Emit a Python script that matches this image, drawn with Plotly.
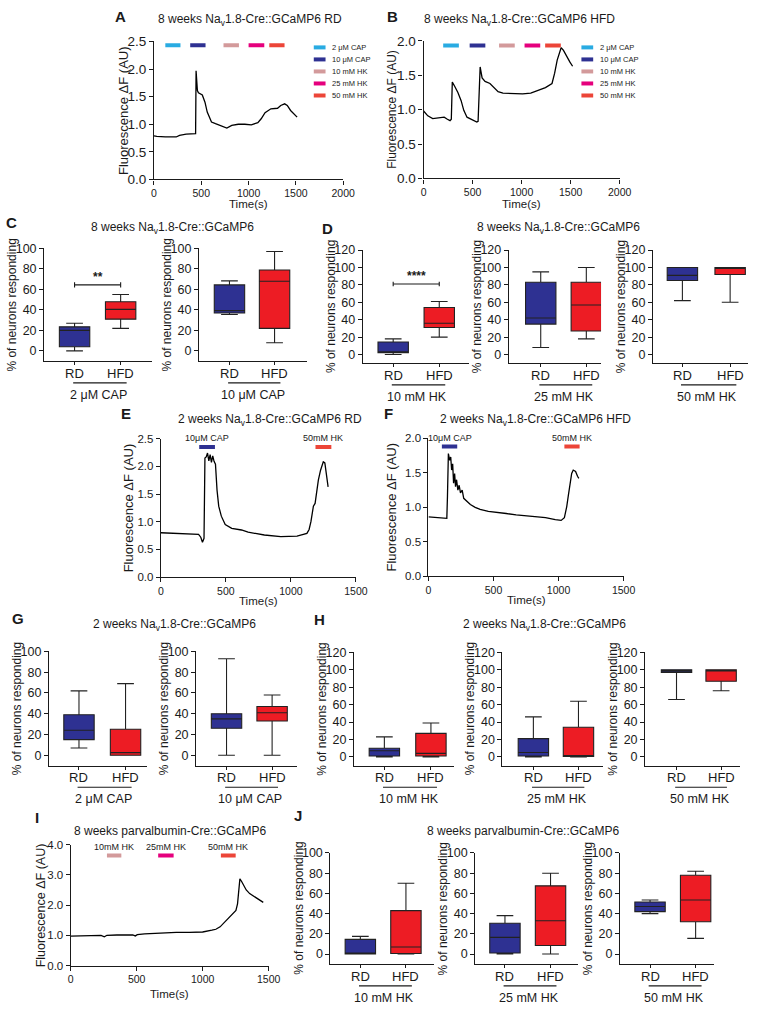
import plotly.graph_objects as go

# ======================= DATA =======================
# Calcium traces (time in s, fluorescence dF in AU)
A_time = [0, 30, 120, 235, 270, 340, 440, 445, 459, 470, 511, 539, 563, 587, 608, 650, 718, 770, 822, 891,
          960, 1029, 1098, 1133, 1174, 1236, 1306, 1340, 1381, 1409, 1444, 1478, 1513]
A_val = [0.79, 0.78, 0.77, 0.77, 0.80, 0.82, 0.83, 1.97, 1.61, 1.57, 1.53, 1.40, 1.22, 1.13, 1.04, 1.01, 0.97,
         0.93, 0.98, 1.00, 1.00, 0.99, 1.03, 1.10, 1.21, 1.28, 1.29, 1.34, 1.37, 1.34, 1.25, 1.19, 1.13]

B_time = [0, 43, 93, 160, 210, 243, 270, 283, 293, 317, 350, 383, 410, 443, 493, 543, 556, 577, 597, 627, 677,
          717, 760, 810, 910, 1010, 1093, 1177, 1243, 1310, 1337, 1363, 1403, 1427, 1460, 1493, 1520]
B_val = [0.98, 0.91, 0.87, 0.88, 0.89, 0.86, 0.84, 0.86, 1.40, 1.34, 1.25, 1.13, 0.99, 0.89, 0.85, 0.82, 0.83,
         1.62, 1.46, 1.41, 1.38, 1.32, 1.26, 1.24, 1.23, 1.23, 1.24, 1.29, 1.32, 1.38, 1.53, 1.72, 1.90, 1.86,
         1.77, 1.69, 1.63]

E_time = [0, 100, 200, 290, 307, 320, 332, 339, 349, 359, 369, 379, 389, 399, 409, 420, 432, 445, 465, 495,
          545, 620, 671, 796, 922, 1047, 1123, 1140, 1154, 1161, 1173, 1186, 1198, 1211, 1228, 1249, 1261, 1274,
          1286]
E_val = [0.80, 0.79, 0.78, 0.77, 0.72, 0.63, 0.70, 2.15, 2.17, 2.24, 2.10, 2.21, 2.07, 2.19, 2.09, 2.04, 1.57,
         1.28, 1.10, 0.95, 0.88, 0.85, 0.81, 0.76, 0.73, 0.74, 0.79, 0.86, 1.00, 1.13, 1.28, 1.33, 1.57, 1.75,
         1.93, 2.08, 2.06, 1.87, 1.63]

F_time = [0, 70, 141, 146, 153, 163, 171, 178, 186, 193, 201, 208, 216, 226, 236, 246, 259, 271, 296, 322,
          359, 397, 460, 523, 598, 674, 749, 824, 900, 975, 1020, 1045, 1063, 1076, 1088, 1101, 1113, 1131,
          1146, 1156]
F_val = [0.86, 0.85, 0.84, 1.16, 1.78, 1.68, 1.73, 1.54, 1.63, 1.35, 1.49, 1.30, 1.40, 1.25, 1.32, 1.21, 1.25,
         1.13, 1.09, 1.04, 1.00, 0.97, 0.94, 0.93, 0.91, 0.89, 0.88, 0.86, 0.85, 0.82, 0.81, 0.85, 1.01, 1.18,
         1.35, 1.49, 1.54, 1.52, 1.45, 1.42]

I_time = [0, 100, 230, 255, 262, 275, 350, 470, 490, 505, 560, 650, 700, 800, 900, 1000, 1070, 1100, 1132,
          1165, 1195, 1230, 1252, 1264, 1272, 1282, 1295, 1306, 1330, 1356, 1405, 1459]
I_val = [0.97, 0.98, 1.00, 0.95, 0.97, 1.00, 1.01, 1.01, 0.98, 1.02, 1.05, 1.07, 1.10, 1.10, 1.10, 1.11, 1.17,
         1.20, 1.28, 1.42, 1.55, 1.70, 1.82, 2.04, 2.45, 2.87, 2.78, 2.68, 2.50, 2.38, 2.25, 2.09]

# Stimulus application windows (s)
stim_names = ["2 μM CAP", "10 μM CAP", "10 mM HK", "25 mM HK", "50 mM HK"]
A_stim_start = [120, 383, 735, 1000, 1219]
A_stim_end = [280, 545, 898, 1166, 1380]
A_stim_level = 2.43
B_stim_start = [200, 470, 770, 1030, 1240]
B_stim_end = [360, 630, 930, 1190, 1400]
B_stim_level = 1.93
E_stim_labels = ["10μM CAP", "50mM HK"]
E_stim_start = [295, 1189]
E_stim_end = [416, 1311]
E_stim_level = 2.35
F_stim_labels = ["10μM CAP", "50mM HK"]
F_stim_start = [103, 1045]
F_stim_end = [221, 1162]
F_stim_level = 1.88
I_stim_labels = ["10mM HK", "25mM HK", "50mM HK"]
I_stim_start = [275, 663, 1138]
I_stim_end = [384, 780, 1250]
I_stim_level = 3.64

# Box plot summaries: [min, Q1, median, Q3, max] (% of neurons responding)
groups = ["RD", "HFD"]
C1_RD = [0, 4, 20, 23.5, 27];      C1_HFD = [22, 31, 40.5, 48, 55]
C2_RD = [35.5, 37, 39.3, 64.4, 68.3]; C2_HFD = [8, 22, 68, 79, 97]
D1_RD = [0, 2, 3, 14.4, 18];       D1_HFD = [20, 31, 36, 54, 61]
D2_RD = [8, 35, 42, 83, 95];       D2_HFD = [18, 27, 57, 83, 100]
D3_RD = [62, 85, 91, 100, 100];    D3_HFD = [60, 92, 99, 100, 100]
G1_RD = [7, 15, 24, 39, 62];       G1_HFD = [0, 0, 2.5, 25, 69]
G2_RD = [0, 26, 35, 40, 93];       G2_HFD = [0, 33, 41, 47, 58]
H1_RD = [0, 1, 7, 10, 23];         H1_HFD = [0, 1, 4, 27, 39]
H2_RD = [0, 1, 5, 21, 46];         H2_HFD = [0, 0.5, 1, 34, 64]
H3_RD = [66, 97, 98.5, 100, 100];  H3_HFD = [76, 87, 99, 100, 100]
J1_RD = [0, 0, 0.5, 14.5, 17.5];   J1_HFD = [0, 0.5, 7, 43, 70]
J2_RD = [0, 1, 16.5, 30.5, 38];    J2_HFD = [0, 8.5, 33, 67.5, 80]
J3_RD = [40, 42, 47, 51.5, 53.5];  J3_HFD = [15.5, 32, 53.5, 78, 82]

sig_C1 = ("**", 64.4)
sig_D1 = ("****", 81)

# ======================= STYLE / LAYOUT =======================
W, H = 764, 1030
FONT = "Arial, 'Liberation Sans', Helvetica, sans-serif"
INK = "#1a1a1a"
C_LBLUE, C_NAVY, C_PINK, C_MAG, C_RED = "#29ABE2", "#2E3192", "#D39A9B", "#E5007D", "#EC4538"
stim_colors = [C_LBLUE, C_NAVY, C_PINK, C_MAG, C_RED]
BOX_RD, BOX_HFD = "#2E3192", "#ED1C24"

fig = go.Figure()
layout = {}
annotations = []
shapes = []
axis_count = [0]


def new_axes(xpx, ypx, xrange, yrange, xtickvals, xticktext, ytickvals, yticktext,
             xfont=10.5, yfont=12.5, xticklen=4, show_xlabels=True):
    axis_count[0] += 1
    n = axis_count[0]
    s = "" if n == 1 else str(n)
    common = dict(showline=True, linecolor=INK, linewidth=1.2, ticks="outside", tickwidth=1,
                  tickcolor=INK, showgrid=False, zeroline=False, fixedrange=True)
    layout["xaxis" + s] = dict(domain=[xpx[0] / W, xpx[1] / W], range=xrange, anchor="y" + s,
                               tickvals=xtickvals, ticktext=xticktext, ticklen=xticklen,
                               showticklabels=show_xlabels,
                               tickfont=dict(size=xfont, family=FONT, color=INK), **common)
    layout["yaxis" + s] = dict(domain=[1 - ypx[1] / H, 1 - ypx[0] / H], range=yrange, anchor="x" + s,
                               tickvals=ytickvals, ticktext=yticktext, ticklen=4,
                               tickfont=dict(size=yfont, family=FONT, color=INK), **common)
    return "x" + s, "y" + s


def ann(text, x, y, size, bold=False, angle=0, xanchor="center", yanchor="middle", color=INK):
    if bold:
        text = "<b>" + text + "</b>"
    annotations.append(dict(text=text, x=x / W, y=1 - y / H, xref="paper", yref="paper", showarrow=False,
                            font=dict(size=size, family=FONT, color=color), textangle=angle,
                            xanchor=xanchor, yanchor=yanchor))


def trace_panel(xpx, ypx, xmax, ymax, ystep, t, v, yfont, ylab_x, ylab_size, time_y):
    xt = list(range(0, xmax + 1, 500))
    yt = [round(i * ystep, 2) for i in range(int(round(ymax / ystep)) + 1)]
    xa, ya = new_axes(xpx, ypx, [0, xmax], [0, ymax], xt, [str(x) for x in xt], yt,
                      ["%.1f" % y for y in yt], xfont=10.5, yfont=yfont)
    fig.add_trace(go.Scatter(x=t, y=v, mode="lines", line=dict(color="black", width=1.3),
                             xaxis=xa, yaxis=ya, hoverinfo="skip"))
    ann("Fluorescence ΔF (AU)", ylab_x, (ypx[0] + ypx[1]) / 2, ylab_size, angle=-90)
    ann("Time(s)", (xpx[0] + xpx[1]) / 2, time_y, 11.5)
    return xa, ya


def stim_bars(xa, ya, starts, ends, level, colors, labels=None):
    for i, (s, e) in enumerate(zip(starts, ends)):
        fig.add_trace(go.Scatter(x=[s, e], y=[level, level], mode="lines",
                                 line=dict(color=colors[i], width=4), xaxis=xa, yaxis=ya, hoverinfo="skip"))
        if labels:
            annotations.append(dict(text=labels[i], x=(s + e) / 2, y=level, xref=xa, yref=ya,
                                    showarrow=False, yshift=9, font=dict(size=9, family=FONT, color=INK)))


def legend_block(x0, y0):
    for i, name in enumerate(stim_names):
        y = y0 + i * 12.2
        shapes.append(dict(type="line", xref="paper", yref="paper", x0=x0 / W, x1=(x0 + 12) / W,
                           y0=1 - y / H, y1=1 - y / H, line=dict(color=stim_colors[i], width=4)))
        ann(name, x0 + 17, y, 7.5, xanchor="left")


def box_panel(xpx, ypx, centers, ymax, rd, hfd, group_label, tick_step=20, sig=None):
    unit = centers[1] - centers[0]
    xr = [(xpx[0] - centers[0]) / unit, (xpx[1] - centers[0]) / unit]
    yt = list(range(0, ymax + 1, tick_step))
    xa, ya = new_axes(xpx, ypx, xr, [-10, ymax], [0, 1], groups, yt, [str(y) for y in yt],
                      xfont=13, yfont=12.5, xticklen=3, show_xlabels=False)
    bw = 31 / unit
    for pos, st, col in [(0, rd, BOX_RD), (1, hfd, BOX_HFD)]:
        fig.add_trace(go.Box(x=[pos], lowerfence=[st[0]], q1=[st[1]], median=[st[2]], q3=[st[3]],
                             upperfence=[st[4]], width=bw, whiskerwidth=0.55, fillcolor=col,
                             line=dict(color="#222222", width=1.1), boxpoints=False,
                             xaxis=xa, yaxis=ya, hoverinfo="skip"))
    ybot = ypx[1]
    # category labels
    for pos, g in enumerate(groups):
        annotations.append(dict(text=g, x=pos, y=1 - (ybot + 12.5) / H, xref=xa, yref="paper",
                                showarrow=False, yanchor="middle",
                                font=dict(size=13, family=FONT, color=INK)))
    # underline and group label
    shapes.append(dict(type="line", xref=xa, yref="paper", x0=-0.03, x1=1.13,
                       y0=1 - (ybot + 22) / H, y1=1 - (ybot + 22) / H, line=dict(color=INK, width=1.2)))
    annotations.append(dict(text=group_label, x=0.52, y=1 - (ybot + 34) / H, xref=xa, yref="paper",
                            showarrow=False, yanchor="middle",
                            font=dict(size=12.5, family=FONT, color=INK)))
    ann("% of neurons responding", xpx[0] - 33, (ypx[0] + ypx[1]) / 2, 12, angle=-90)
    if sig:
        txt, lvl = sig
        d = 2.5
        fig.add_trace(go.Scatter(x=[0, 0, None, 0, 1, None, 1, 1], y=[lvl - d, lvl + d, None, lvl, lvl, None,
                                                                      lvl - d, lvl + d],
                                 mode="lines", line=dict(color=INK, width=1.1), xaxis=xa, yaxis=ya,
                                 hoverinfo="skip"))
        annotations.append(dict(text="<b>" + txt + "</b>", x=0.5, y=lvl, xref=xa, yref=ya, showarrow=False,
                                yshift=8, font=dict(size=12, family=FONT, color=INK)))
    return xa, ya


# ---------------- A ----------------
xa, ya = trace_panel([154, 347], [35, 175], 2000, 2.5, 0.5, A_time, A_val, 13.5, 123, 13, 200)
stim_bars(xa, ya, A_stim_start, A_stim_end, A_stim_level, stim_colors)
legend_block(317, 41)
ann("A", 120, 10, 15, bold=True)
ann("8 weeks Na<sub>v</sub>1.8-Cre::GCaMP6 RD", 252, 13, 12)

# ---------------- B ----------------
xa, ya = trace_panel([429, 629], [34.3, 174], 2000, 2.0, 0.5, B_time, B_val, 13.5, 396, 12, 200)
stim_bars(xa, ya, B_stim_start, B_stim_end, B_stim_level, stim_colors)
legend_block(590, 41)
ann("B", 397, 10, 15, bold=True)
ann("8 weeks Na<sub>v</sub>1.8-Cre::GCaMP6 HFD", 527, 13, 12)

# ---------------- C ----------------
box_panel([42, 152], [245, 359.4], [73, 120], 100, C1_RD, C1_HFD, "2 μM CAP", sig=sig_C1)
box_panel([200, 310], [245, 359.4], [231, 277], 100, C2_RD, C2_HFD, "10 μM CAP")
ann("C", 9, 219, 15, bold=True)
ann("8 weeks Na<sub>v</sub>1.8-Cre::GCaMP6", 173, 224, 12)

# ---------------- D ----------------
box_panel([367, 475], [246.7, 361.5], [398, 445], 120, D1_RD, D1_HFD, "10 mM HK", sig=sig_D1)
box_panel([516, 610], [246.7, 361.5], [548.5, 595], 120, D2_RD, D2_HFD, "25 mM HK")
box_panel([663, 760], [246.7, 361.5], [693, 741.7], 120, D3_RD, D3_HFD, "50 mM HK")
ann("D", 331, 225, 15, bold=True)
ann("8 weeks Na<sub>v</sub>1.8-Cre::GCaMP6", 567, 224, 12)

# ---------------- E ----------------
xa, ya = trace_panel([161, 360], [438, 578.5], 1500, 2.5, 0.5, E_time, E_val, 11.5, 128, 13, 603)
stim_bars(xa, ya, E_stim_start, E_stim_end, E_stim_level, [C_NAVY, C_RED], E_stim_labels)
ann("E", 125, 413, 15, bold=True)
ann("2 weeks Na<sub>v</sub>1.8-Cre::GCaMP6 RD", 272, 419, 12)

# ---------------- F ----------------
xa, ya = trace_panel([434, 633], [437.7, 577.7], 1500, 2.0, 0.5, F_time, F_val, 11.5, 396, 13, 602)
stim_bars(xa, ya, F_stim_start, F_stim_end, F_stim_level, [C_NAVY, C_RED], F_stim_labels)
ann("F", 393, 413, 15, bold=True)
ann("2 weeks Na<sub>v</sub>1.8-Cre::GCaMP6 HFD", 543, 419, 12)

# ---------------- G ----------------
box_panel([47, 147], [654, 769.8], [77.5, 125], 100, G1_RD, G1_HFD, "2 μM CAP")
box_panel([197, 300], [654, 769.8], [228, 274.5], 100, G2_RD, G2_HFD, "10 μM CAP")
ann("G", 15, 621, 15, bold=True)
ann("2 weeks Na<sub>v</sub>1.8-Cre::GCaMP6", 175, 627, 12)

# ---------------- H ----------------
box_panel([358, 460], [655, 769.8], [389, 436.5], 120, H1_RD, H1_HFD, "10 mM HK")
box_panel([509.5, 612], [655, 769.8], [541, 587], 120, H2_RD, H2_HFD, "25 mM HK")
box_panel([655, 752], [655, 769.8], [687, 732.5], 120, H3_RD, H3_HFD, "50 mM HK")
ann("H", 323, 622, 15, bold=True)
ann("2 weeks Na<sub>v</sub>1.8-Cre::GCaMP6", 552, 627, 12)

# ---------------- I ----------------
xa, ya = trace_panel([69, 271], [850, 972.7], 1500, 4.0, 1.0, I_time, I_val, 11.5, 39, 12.5, 1002)
stim_bars(xa, ya, I_stim_start, I_stim_end, I_stim_level, [C_PINK, C_MAG, C_RED], I_stim_labels)
ann("I", 35, 822, 15, bold=True)
ann("8 weeks parvalbumin-Cre::GCaMP6", 170, 836, 12)

# ---------------- J ----------------
box_panel([334, 440], [858.5, 971.3], [364.5, 411], 100, J1_RD, J1_HFD, "10 mM HK")
box_panel([481.7, 587], [858.5, 971.3], [512, 558.5], 100, J2_RD, J2_HFD, "25 mM HK")
box_panel([629.3, 725], [858.5, 971.3], [660, 706.5], 100, J3_RD, J3_HFD, "50 mM HK")
ann("J", 301, 820, 15, bold=True)
ann("8 weeks parvalbumin-Cre::GCaMP6", 530, 836, 12)

layout.update(dict(width=W, height=H, margin=dict(l=0, r=0, t=0, b=0), paper_bgcolor="white",
                   plot_bgcolor="white", showlegend=False, font=dict(family=FONT, color=INK),
                   annotations=annotations, shapes=shapes))
fig.update_layout(**layout)
fig.write_html("out.html", config={"displayModeBar": False},
               post_script="document.body.style.margin='0px';")
